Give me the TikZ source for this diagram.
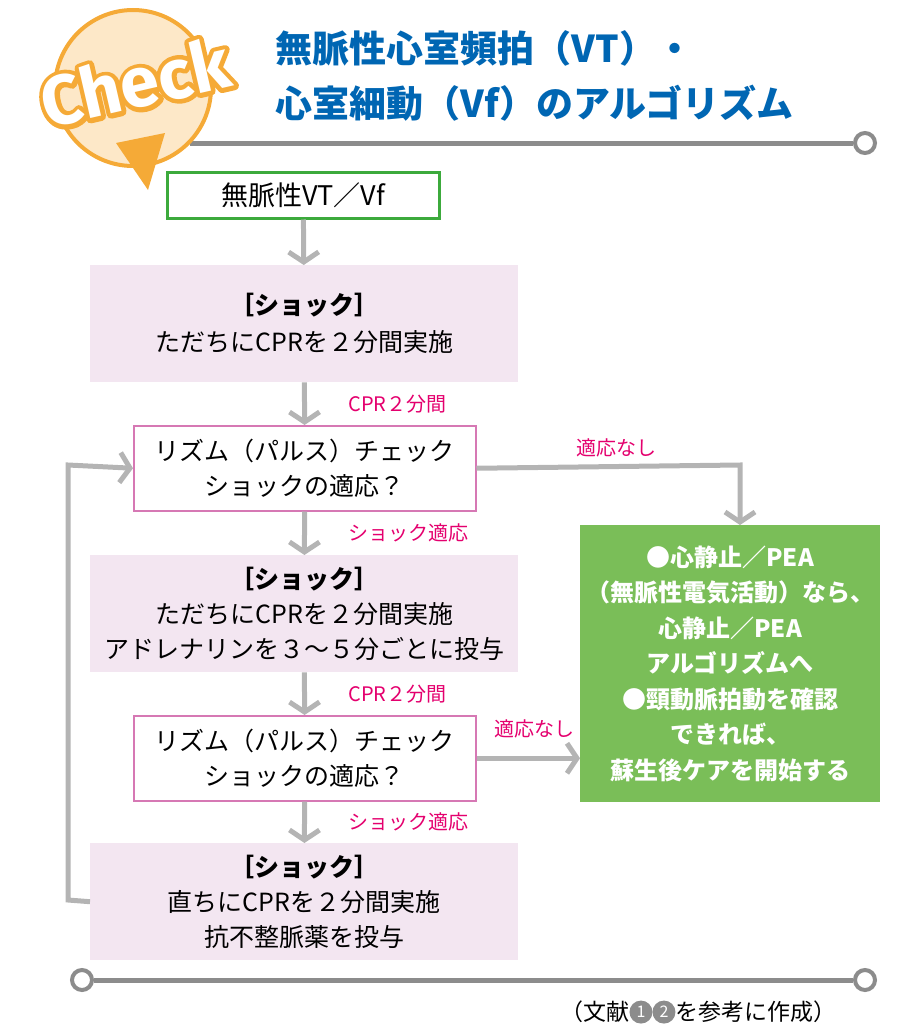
\documentclass[tikz,border=0pt]{standalone}
\usepackage{fontspec}
\setmainfont{Noto Sans CJK JP}
\newfontfamily\logofont{Fira Sans}
\usetikzlibrary{arrows.meta,positioning,calc}
\definecolor{titleblue}{RGB}{0,102,179}
\definecolor{labelred}{RGB}{228,0,110}
\definecolor{boxpink}{RGB}{243,230,241}
\definecolor{edgepink}{RGB}{214,120,180}
\definecolor{boxgreen}{RGB}{122,190,88}
\definecolor{edgegreen}{RGB}{60,170,60}
\definecolor{arrowgray}{RGB}{180,180,180}
\definecolor{rulegray}{RGB}{140,140,140}
\definecolor{logoorange}{RGB}{245,170,55}
\definecolor{logofill}{RGB}{253,232,200}
\newcommand{\refnum}[1]{\tikz[baseline=-0.35em]\node[circle,fill=rulegray,text=white,inner sep=0.5pt,minimum size=1em,font=\fontsize{16}{16}\selectfont]{#1};}
\newcommand{\strokedtext}[1]{\special{pdf:code 2 Tr 9 w 1 j}#1\special{pdf:code 0 Tr 1 w 0 j}}
\tikzset{
  shockbox/.style={fill=boxpink,minimum width=428pt,minimum height=117pt,align=center,
    font=\fontsize{25}{37}\selectfont,anchor=north west},
  checkbox/.style={draw=edgepink,line width=1.5pt,fill=white,minimum width=342pt,minimum height=85pt,
    align=center,font=\fontsize{25}{35}\selectfont,anchor=north west},
  flow/.style={arrowgray,line width=5pt,-{Straight Barb[length=10pt,width=30pt]}},
  cond/.style={text=labelred,font=\fontsize{20}{20}\selectfont},
  rule/.style={rulegray,line width=5pt},
  endpt/.style={draw=rulegray,line width=4pt,fill=white,circle,minimum size=20pt,inner sep=0pt},
  logo/.style={rotate=13,font=\logofont\bfseries\fontsize{70}{70}\selectfont},
}
\begin{document}
\begin{tikzpicture}[x=1pt,y=-1pt]
  \useasboundingbox (0,0) rectangle (900,1036);

  % rules
  \node[endpt] (topend) at (865,143) {};
  \coordinate (topstart) at (190,143);
  \draw[rule] (topstart) -- (topend);
  \node[endpt] (botleft) at (82,980) {};
  \node[endpt] (botright) at (865,980) {};
  \draw[rule] (botleft) -- (botright);

  % logo
  \node[circle,draw=logoorange,line width=4pt,fill=logofill,minimum size=156pt] (logo) at (133,88) {};
  \fill[logoorange] (116,143) -- (165,133) -- (148,190) -- cycle;
  \node[logo,text=logoorange] (logoedge) at (135,82) {\strokedtext{Check}};
  \node[logo,text=white] (logotext) at (135,82) {Check};

  % title
  \node[anchor=west,text=titleblue,font=\bfseries\fontsize{37}{37}\selectfont] (title1) at (272,48) {無脈性心室頻拍（VT）・};
  \node[anchor=west,text=titleblue,font=\bfseries\fontsize{37}{37}\selectfont] (title2) at (272,103) {心室細動（Vf）のアルゴリズム};

  % flow
  \node[draw=edgegreen,line width=2.5pt,fill=white,minimum width=272pt,minimum height=46pt,
    font=\fontsize{27}{27}\selectfont,anchor=north west] (start) at (166,171) {無脈性VT／Vf};
  \node[shockbox] (shock1) at (90,265) {\textbf{［ショック］}\\ただちにCPRを２分間実施};
  \node[checkbox] (rhythm1) at (133,425) {リズム（パルス）チェック\\ショックの適応？};
  \node[shockbox,font=\fontsize{25}{35}\selectfont] (shock2) at (90,555) {\textbf{［ショック］}\\ただちにCPRを２分間実施\\アドレナリンを３～５分ごとに投与};
  \node[checkbox] (rhythm2) at (133,715) {リズム（パルス）チェック\\ショックの適応？};
  \node[shockbox,font=\fontsize{25}{35}\selectfont] (shock3) at (90,843) {\textbf{［ショック］}\\直ちにCPRを２分間実施\\抗不整脈薬を投与};
  \node[fill=boxgreen,text=white,minimum width=300pt,minimum height=277pt,align=center,
    font=\bfseries\fontsize{24}{35.5}\selectfont,anchor=north west] (other) at (580,525)
    {●心静止／PEA\\（無脈性電気活動）なら、\\心静止／PEA\\アルゴリズムへ\\●頸動脈拍動を確認\\できれば、\\蘇生後ケアを開始する};

  \draw[flow] (start) -- (shock1);
  \draw[flow] (shock1) -- node[cond,right=38pt] {CPR２分間} (rhythm1);
  \draw[flow] (rhythm1) -- node[cond,right=38pt] {ショック適応} (shock2);
  \draw[flow] (shock2) -- node[cond,right=38pt] {CPR２分間} (rhythm2);
  \draw[flow] (rhythm2) -- node[cond,right=38pt] {ショック適応} (shock3);
  \draw[flow] (rhythm1.east) -- node[cond,above=4pt,pos=0.53] {適応なし} (740,465) -- (other.north -| 740,0);
  \draw[flow] (rhythm2.east) -- node[cond,above=14pt,xshift=6pt] {適応なし} (other.west |- rhythm2.east);
  \draw[flow] (shock3.west) -- (68,900) -- (68,465) -- (rhythm1.west);

  \node[anchor=east,font=\fontsize{23}{23}\selectfont] (source) at (840,1012) {（文献\refnum{1}\refnum{2}を参考に作成）};
\end{tikzpicture}
\end{document}
